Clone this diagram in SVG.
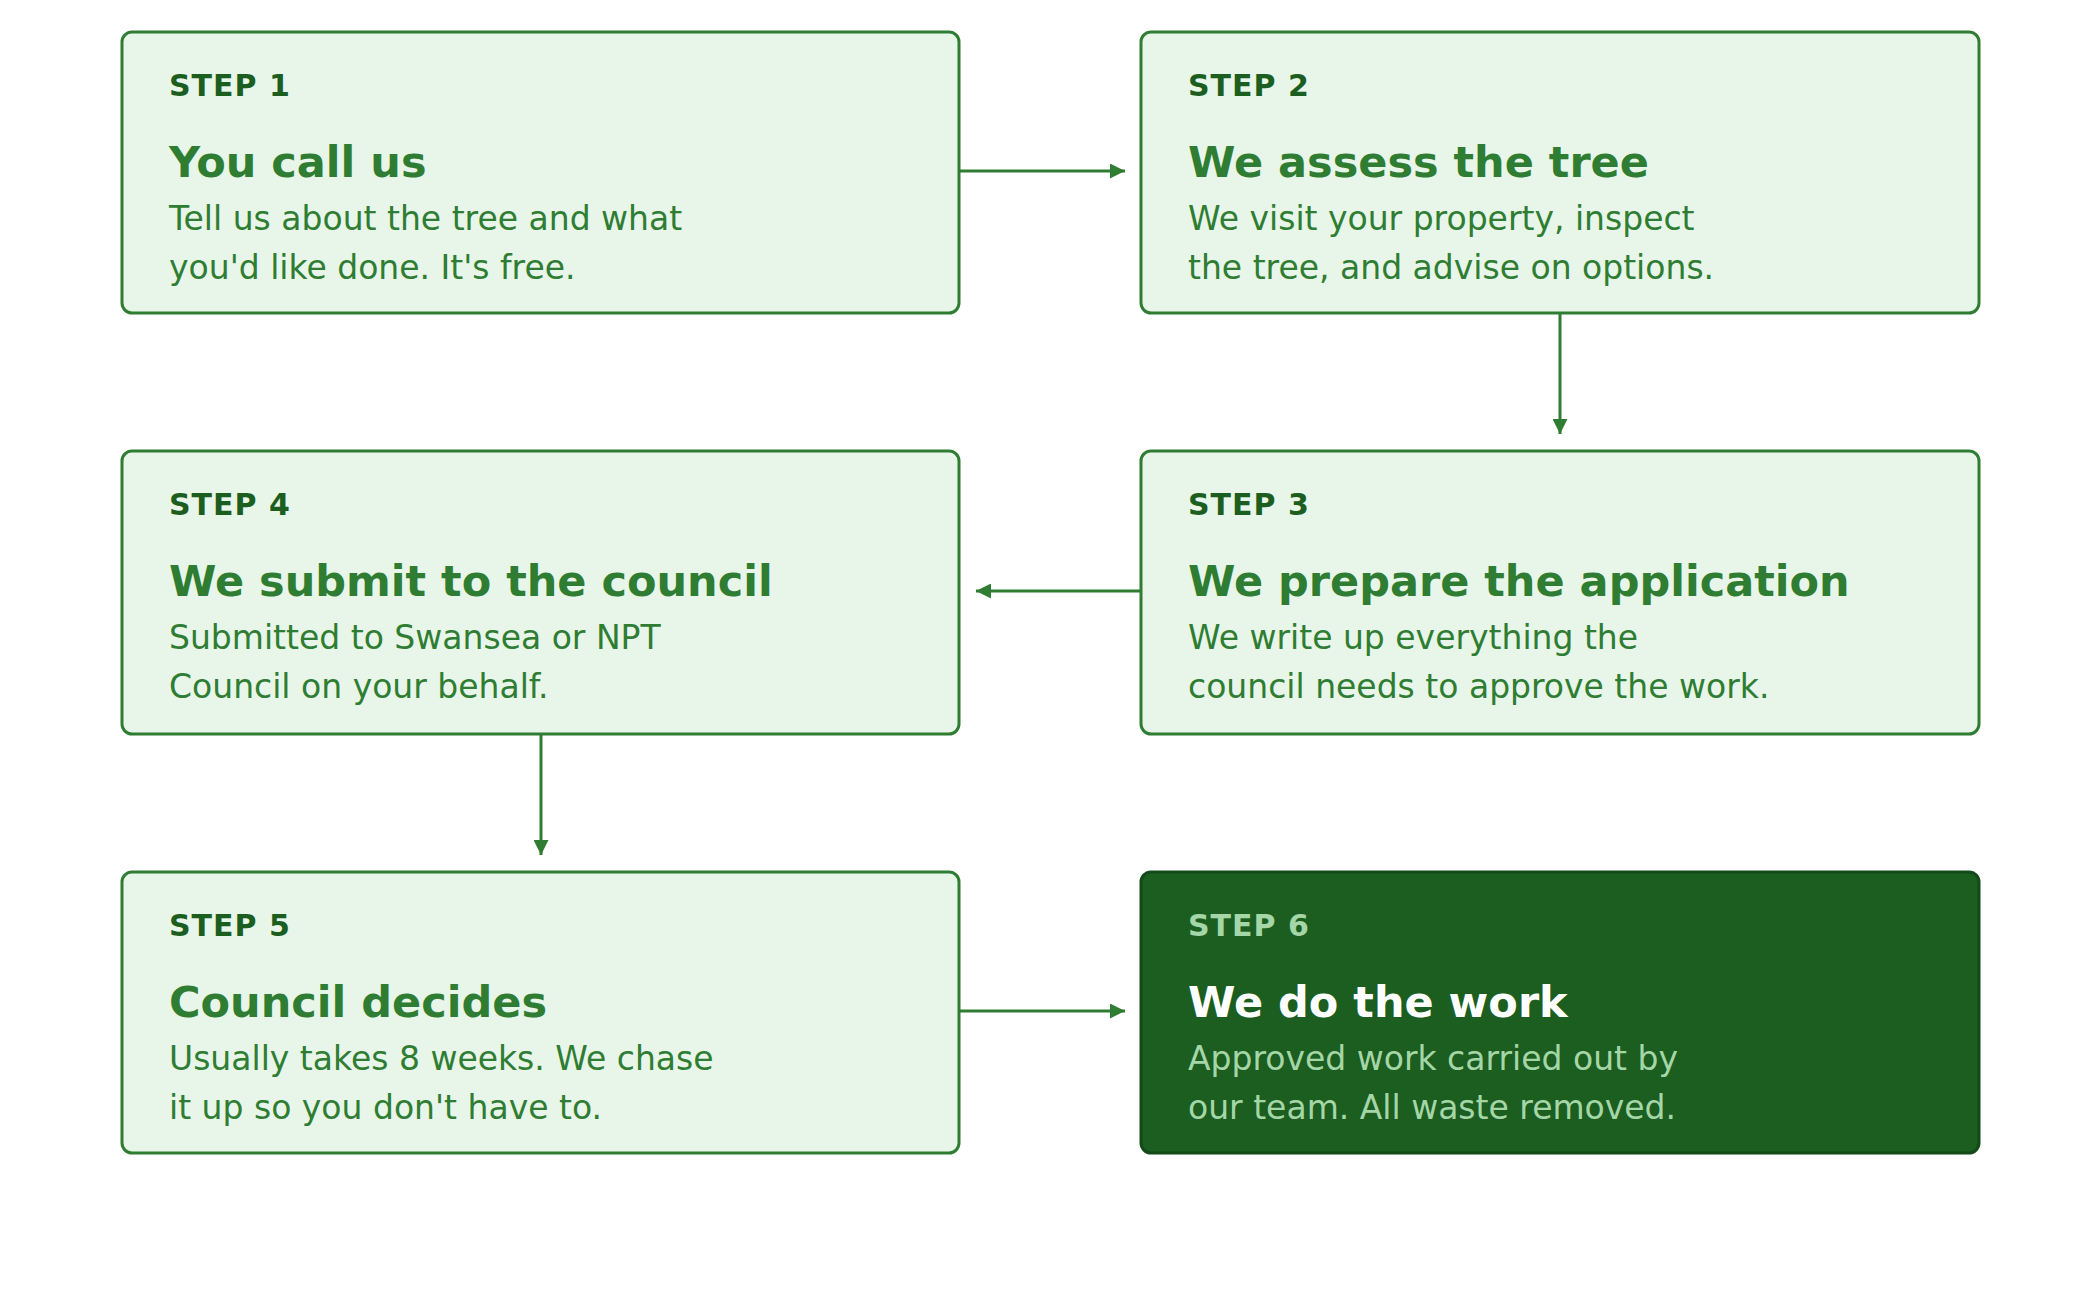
<svg xmlns="http://www.w3.org/2000/svg" width="2100" height="1290" viewBox="0 0 2100 1290">
<style>
.box{fill:#e8f5e9;stroke:#2e7d32;stroke-width:3}
.dark{fill:#1b5e20;stroke:#134a17;stroke-width:3}
text{font-family:"DejaVu Sans",sans-serif}
.s{font-size:30px;font-weight:bold;fill:#1b5e20;letter-spacing:1px}
.t{font-size:43px;font-weight:bold;fill:#2e7d32}
.b{font-size:33px;fill:#2e7d32}
.dark~.s{fill:#a5d6a7}
.ds{fill:#a5d6a7}.dt{fill:#fff}
.con{stroke:#2e7d32;stroke-width:3;fill:none;marker-end:url(#a)}
</style>
<defs><marker id="a" viewBox="0 0 10 10" refX="10" refY="5" markerWidth="5" markerHeight="5" orient="auto"><path d="M0,0L10,5L0,10z" fill="#2e7d32"/></marker></defs>
<rect width="2100" height="1290" fill="#fff"/>
<g id="connectors">
<line class="con" x1="960" y1="171" x2="1125" y2="171"/>
<line class="con" x1="1560" y1="314" x2="1560" y2="434"/>
<line class="con" x1="1141" y1="591" x2="976" y2="591"/>
<line class="con" x1="541" y1="735" x2="541" y2="855"/>
<line class="con" x1="960" y1="1011" x2="1125" y2="1011"/>
</g>
<g id="step1"><rect class="box" x="122" y="32" width="837" height="281" rx="10"/>
<text class="s" x="169" y="96">STEP 1</text><text class="t" x="169" y="177">You call us</text>
<text class="b" x="169" y="230">Tell us about the tree and what</text><text class="b" x="169" y="279">you'd like done. It's free.</text></g>
<g id="step2"><rect class="box" x="1141" y="32" width="838" height="281" rx="10"/>
<text class="s" x="1188" y="96">STEP 2</text><text class="t" x="1188" y="177">We assess the tree</text>
<text class="b" x="1188" y="230">We visit your property, inspect</text><text class="b" x="1188" y="279">the tree, and advise on options.</text></g>
<g id="step4"><rect class="box" x="122" y="451" width="837" height="283" rx="10"/>
<text class="s" x="169" y="515">STEP 4</text><text class="t" x="169" y="596">We submit to the council</text>
<text class="b" x="169" y="649">Submitted to Swansea or NPT</text><text class="b" x="169" y="698">Council on your behalf.</text></g>
<g id="step3"><rect class="box" x="1141" y="451" width="838" height="283" rx="10"/>
<text class="s" x="1188" y="515">STEP 3</text><text class="t" x="1188" y="596">We prepare the application</text>
<text class="b" x="1188" y="649">We write up everything the</text><text class="b" x="1188" y="698">council needs to approve the work.</text></g>
<g id="step5"><rect class="box" x="122" y="872" width="837" height="281" rx="10"/>
<text class="s" x="169" y="936">STEP 5</text><text class="t" x="169" y="1017">Council decides</text>
<text class="b" x="169" y="1070">Usually takes 8 weeks. We chase</text><text class="b" x="169" y="1119">it up so you don't have to.</text></g>
<g id="step6"><rect class="dark" x="1141" y="872" width="838" height="281" rx="10"/>
<text class="s ds" x="1188" y="936">STEP 6</text><text class="t dt" x="1188" y="1017">We do the work</text>
<text class="b ds" x="1188" y="1070">Approved work carried out by</text><text class="b ds" x="1188" y="1119">our team. All waste removed.</text></g>
</svg>
